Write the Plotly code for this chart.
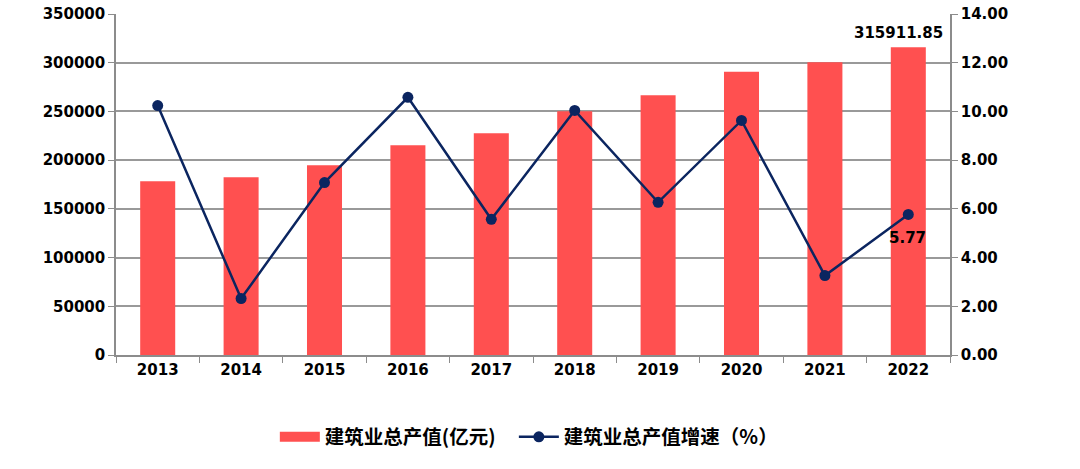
import plotly.graph_objects as go

years = ["2013", "2014", "2015", "2016", "2017", "2018", "2019", "2020", "2021", "2022"]
output_value = [178300, 182400, 194700, 215300, 227600, 250200, 266600, 290600, 300500, 315911.85]
growth_rate = [10.24, 2.32, 7.08, 10.58, 5.57, 10.04, 6.27, 9.63, 3.26, 5.77]
bar_name = "建筑业总产值(亿元)"
line_name = "建筑业总产值增速（%）"
bar_label = "315911.85"
line_label = "5.77"

tick_font = dict(family="DejaVu Sans", size=15, color="#000000", weight="bold")
axis_gray = "#8c8c8c"
bar_color = "#FF5050"

fig = go.Figure()
fig.add_trace(go.Bar(
    x=years, y=output_value, name=bar_name,
    marker=dict(color=bar_color, line=dict(width=0)),
    width=0.42, legendgroup="bar", showlegend=False,
))
# legend swatch for the bars (wide rectangle like the original)
fig.add_trace(go.Scatter(
    x=[None], y=[None], name=bar_name + "\u00a0\u00a0\u00a0", mode="lines",
    line=dict(color=bar_color, width=13), legendgroup="bar",
))
fig.add_trace(go.Scatter(
    x=years, y=growth_rate, name=line_name, yaxis="y2",
    mode="lines+markers",
    line=dict(color="#0B2560", width=2.5),
    marker=dict(color="#0B2560", size=11),
))
fig.add_annotation(
    x=len(years) - 1, y=output_value[-1], xref="x", yref="y",
    text=bar_label, showarrow=False, yanchor="bottom",
    xshift=-10, yshift=3, font=tick_font,
)
fig.add_annotation(
    x=len(years) - 1, y=growth_rate[-1], xref="x", yref="y2",
    text=line_label, showarrow=False, yanchor="top",
    xshift=-1, yshift=-13, font=tick_font,
)

fig.update_layout(
    width=1080, height=469,
    margin=dict(l=116, r=130, t=14, b=114, autoexpand=False),
    paper_bgcolor="white", plot_bgcolor="white",
    showlegend=True,
    legend=dict(
        orientation="h", x=0.495, xanchor="center",
        yref="container", y=0.068, yanchor="middle",
        font=dict(family="Noto Sans CJK SC", size=19.5, color="#000000", weight="bold"),
        itemwidth=40, traceorder="normal",
    ),
    xaxis=dict(
        type="category", categoryorder="array", categoryarray=years,
        range=[-0.5, len(years) - 0.5], autorange=False, automargin=False,
        tickson="boundaries", ticks="outside", ticklen=6,
        tickcolor=axis_gray, showline=True, linecolor=axis_gray, linewidth=1.5,
        showgrid=False, tickfont=tick_font,
    ),
    yaxis=dict(
        range=[0, 350000], dtick=50000, tickformat="d", automargin=False,
        ticklabeloverflow="allow",
        ticks="outside", ticklen=6, tickcolor=axis_gray,
        showline=True, linecolor=axis_gray, linewidth=1.5,
        showgrid=True, gridcolor="#999999", gridwidth=1.5,
        tickfont=tick_font, zeroline=False,
    ),
    yaxis2=dict(
        range=[0, 14], dtick=2, tickformat=".2f", overlaying="y", side="right",
        automargin=False, ticklabeloverflow="allow",
        ticks="outside", ticklen=6, tickcolor=axis_gray,
        showline=True, linecolor=axis_gray, linewidth=1.5,
        showgrid=False, tickfont=tick_font, zeroline=False,
    ),
)

fig.write_html("out.html", config={"displayModeBar": False},
               post_script="document.body.style.margin='0';")
